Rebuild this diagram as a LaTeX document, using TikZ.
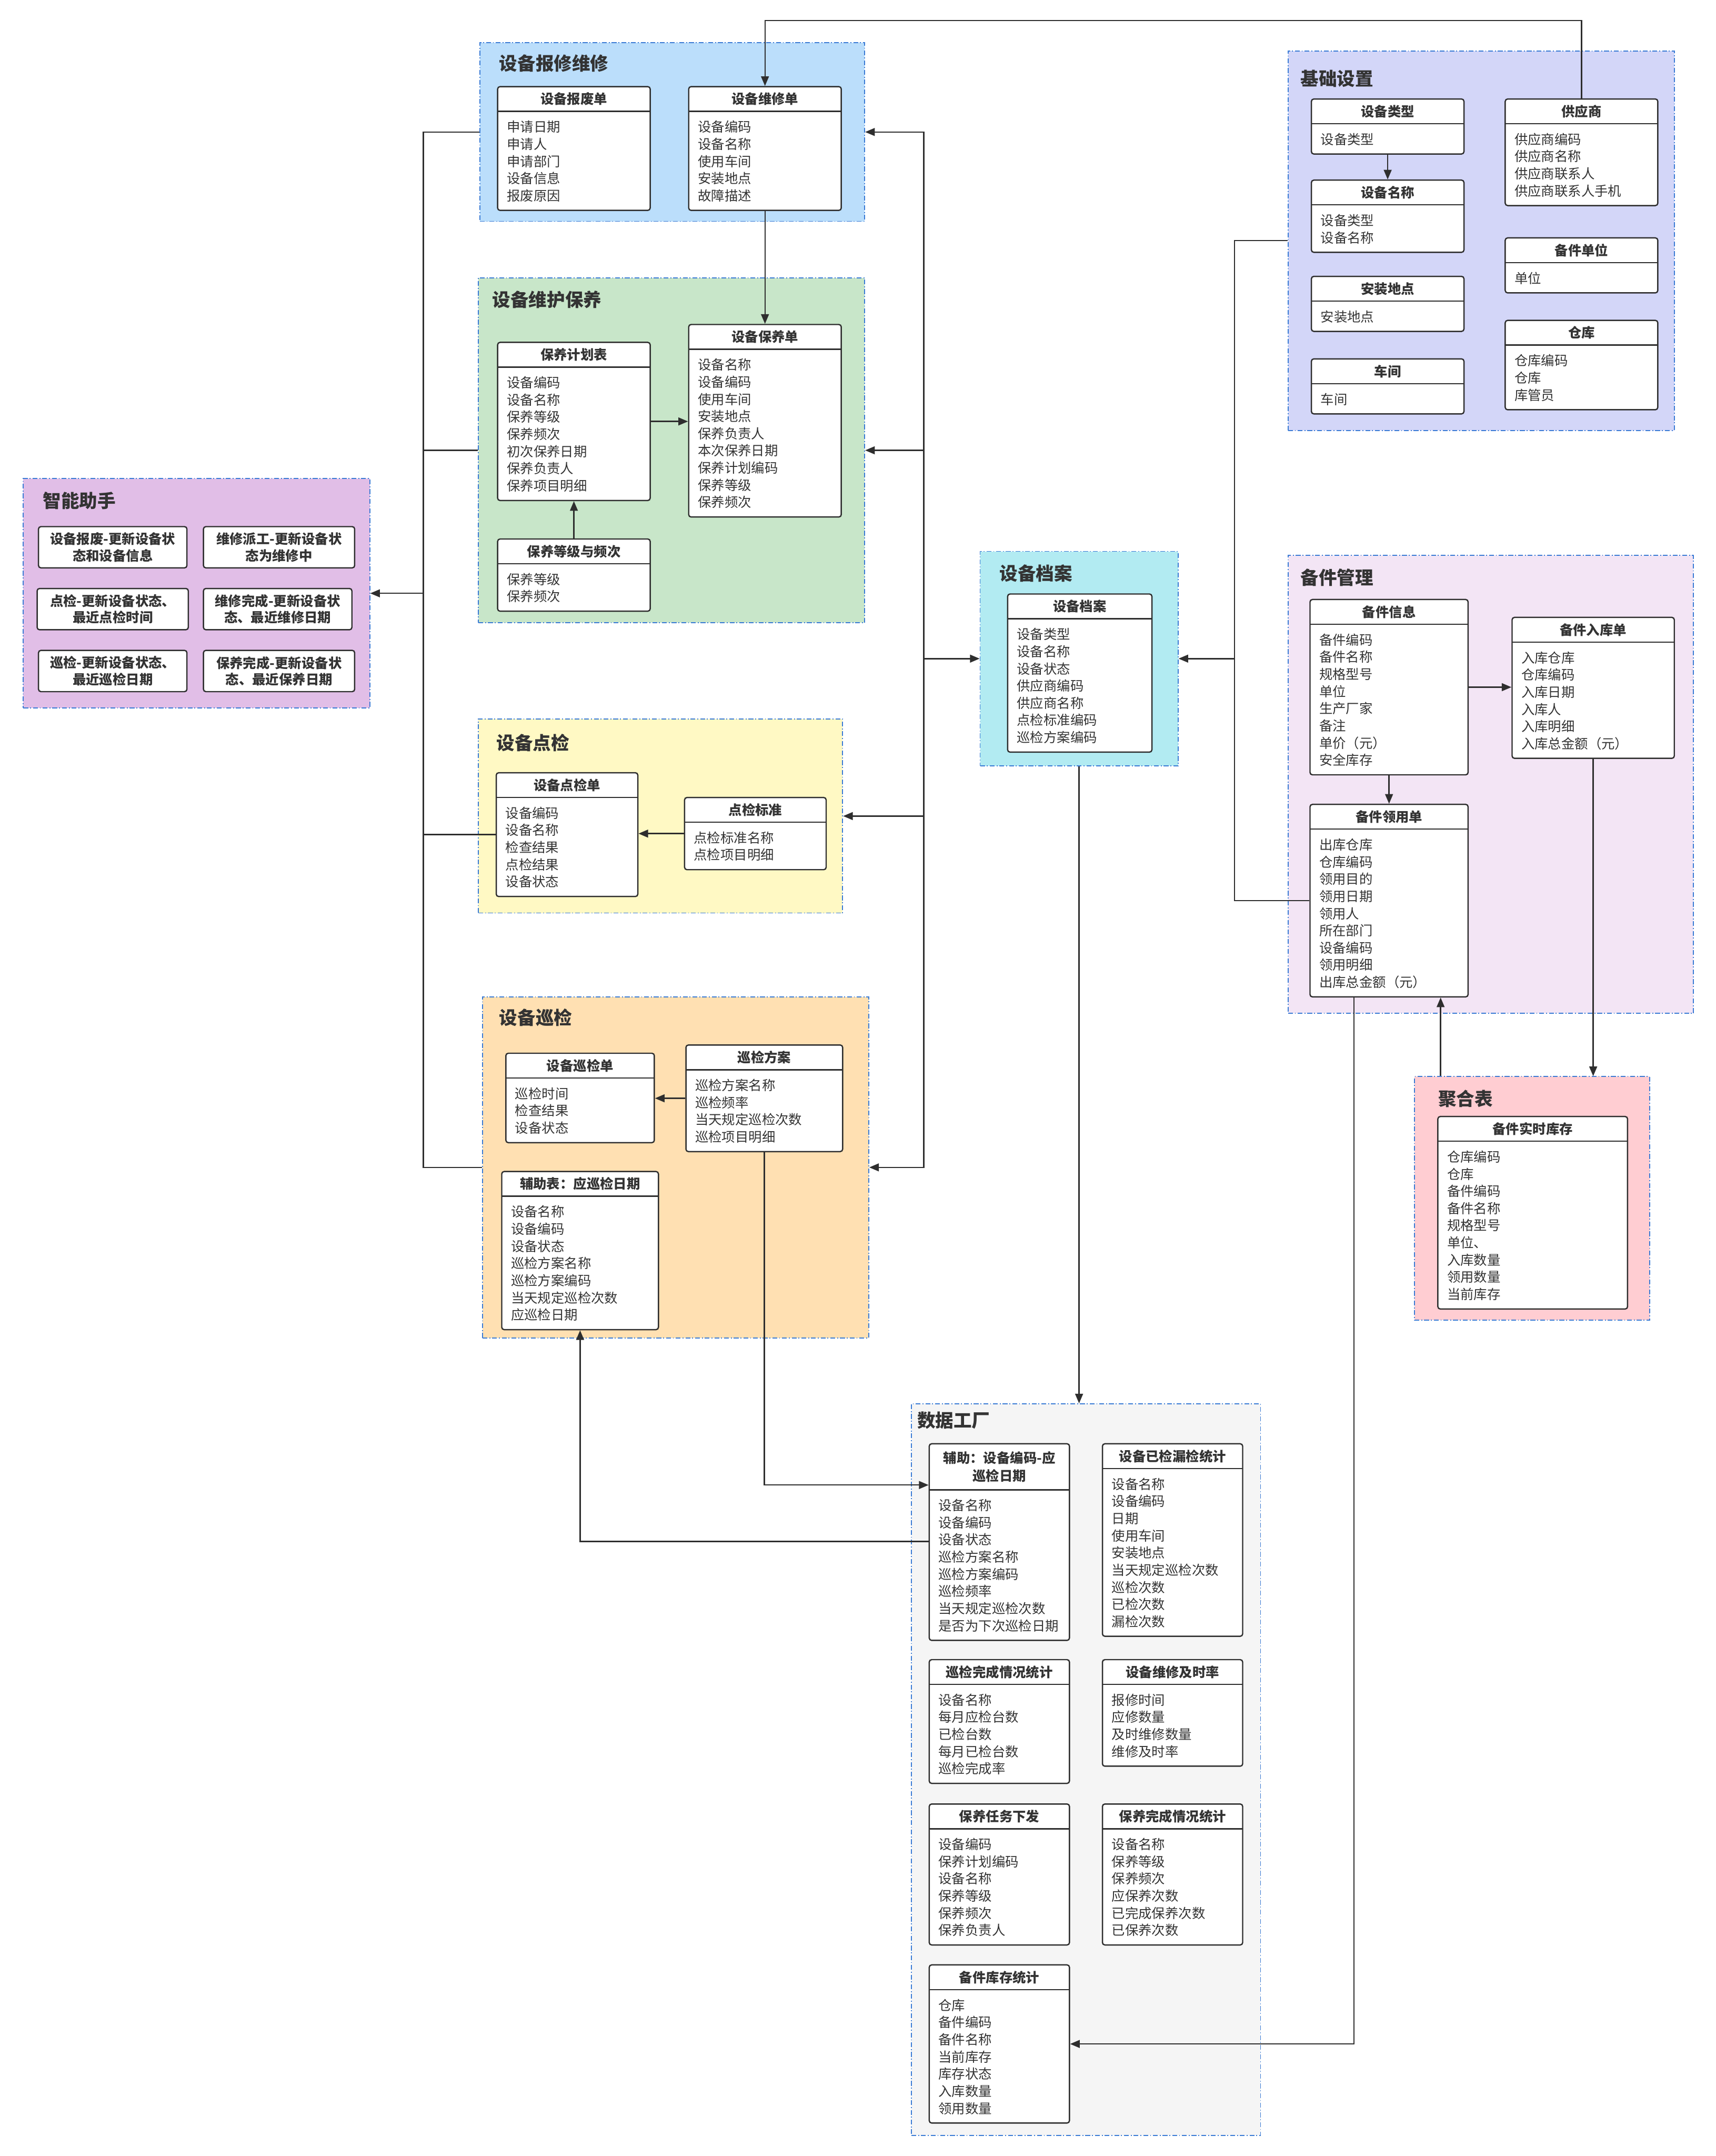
\documentclass[tikz,border=0pt]{standalone}
\usepackage{fontspec}
\setmainfont{Noto Sans CJK SC}
\usetikzlibrary{arrows.meta,fit}

\definecolor{linec}{HTML}{2E2E2E}
\definecolor{txtc}{HTML}{333333}
\definecolor{framec}{HTML}{3A7BD5}
\definecolor{cBX}{HTML}{BBDEFB}
\definecolor{cBY}{HTML}{C8E6C9}
\definecolor{cZN}{HTML}{E1BEE7}
\definecolor{cDA}{HTML}{B2EBF2}
\definecolor{cDJ}{HTML}{FFF9C4}
\definecolor{cXJ}{HTML}{FFE0B2}
\definecolor{cJC}{HTML}{D3D6F8}
\definecolor{cBJ}{HTML}{F3E5F5}
\definecolor{cJH}{HTML}{FFCDD2}
\definecolor{cSJ}{HTML}{F5F5F5}

\tikzset{
 grp/.style={draw=framec, line width=0.6pt, dash pattern=on 3pt off 1.2pt on 0.6pt off 1.2pt, inner sep=0pt},
 grptitle/.style={anchor=west, inner sep=0pt, text=txtc, font=\fontsize{11.3}{13}\selectfont\bfseries},
 entbox/.style={draw=linec, line width=0.8pt, fill=white, rounded corners=1.5pt, inner sep=0pt},
 hdr/.style={inner sep=0pt, text=txtc, font=\fontsize{8.3}{11}\selectfont\bfseries, align=center},
 fld/.style={anchor=base west, inner sep=0pt, text=txtc, font=\fontsize{8.3}{10}\selectfont},
 atext/.style={inner sep=0pt, align=center, font=\fontsize{8.3}{10.2}\selectfont\bfseries, text=txtc},
 conn/.style={draw=linec, line width=0.8pt},
 arr/.style={conn, -{Triangle[length=0.21cm,width=0.17cm]}},
}

% name, x1, y1, x2, n, header height, title, fields
\newcommand{\ent}[8]{%
 \pgfmathsetmacro{\entyb}{#3+#6+9.5+12.5*#5}%
 \node[entbox, fit={(#2,#3) (#4,\entyb)}] (#1) {};%
 \draw[linec, line width=0.8pt] (#2,{#3+#6}) -- (#4,{#3+#6});%
 \node[hdr] at ({(#2+#4)/2},{#3+#6/2}) {#7};%
 \foreach \fldtxt [count=\fldn] in {#8} {\node[fld] at ({#2+6.5},{#3+#6+15+12.5*(\fldn-1)}) {\fldtxt};}%
}
% name, x1, y1, x2, y2, text
\newcommand{\abox}[6]{%
 \node[entbox, fit={(#2,#3) (#4,#5)}] (#1) {};%
 \node[atext] at (#1.center) {#6};%
}

\begin{document}
\begin{tikzpicture}[x=0.03cm, y=-0.03cm]
\fill[white] (0,0) rectangle (1248,1568);
\useasboundingbox (0,0) rectangle (1248,1568);

% ---------- groups ----------
\node[grp, fill=cBX, fit={(349,31) (629,161)}] (g-bx) {};
\node[grp, fill=cBY, fit={(348,202) (629,453)}] (g-by) {};
\node[grp, fill=cZN, fit={(17,348) (269,515)}] (g-zn) {};
\node[grp, fill=cDA, fit={(713,401) (857,557)}] (g-da) {};
\node[grp, fill=cDJ, fit={(348,523) (613,664)}] (g-dj) {};
\node[grp, fill=cXJ, fit={(351,725) (632,973)}] (g-xj) {};
\node[grp, fill=cJC, fit={(937,37) (1218,313)}] (g-jc) {};
\node[grp, fill=cBJ, fit={(937,404) (1232,737)}] (g-bj) {};
\node[grp, fill=cJH, fit={(1029,783) (1200,960)}] (g-jh) {};
\node[grp, fill=cSJ, fit={(663,1021) (917,1553)}] (g-sj) {};

\node[grptitle] (t-bx) at (363,46) {设备报修维修};
\node[grptitle] (t-by) at (358,218) {设备维护保养};
\node[grptitle] (t-zn) at (31,364) {智能助手};
\node[grptitle] (t-da) at (727,417) {设备档案};
\node[grptitle] (t-dj) at (361,540) {设备点检};
\node[grptitle] (t-xj) at (363,740) {设备巡检};
\node[grptitle] (t-jc) at (946,57) {基础设置};
\node[grptitle] (t-bj) at (946,420) {备件管理};
\node[grptitle] (t-jh) at (1046,799) {聚合表};
\node[grptitle] (t-sj) at (667,1033) {数据工厂};

% ---------- entities ----------
\ent{bfd}{362}{63}{473}{5}{18}{设备报废单}{申请日期,申请人,申请部门,设备信息,报废原因}
\ent{wxd}{501}{63}{612}{5}{18}{设备维修单}{设备编码,设备名称,使用车间,安装地点,故障描述}
\ent{byjh}{362}{249}{473}{7}{18}{保养计划表}{设备编码,设备名称,保养等级,保养频次,初次保养日期,保养负责人,保养项目明细}
\ent{byd}{501}{236}{612}{9}{18}{设备保养单}{设备名称,设备编码,使用车间,安装地点,保养负责人,本次保养日期,保养计划编码,保养等级,保养频次}
\ent{bydj}{362}{392}{473}{2}{18}{保养等级与频次}{保养等级,保养频次}
\ent{da}{733}{432}{838}{7}{18}{设备档案}{设备类型,设备名称,设备状态,供应商编码,供应商名称,点检标准编码,巡检方案编码}
\ent{djd}{361}{562}{464}{5}{18}{设备点检单}{设备编码,设备名称,检查结果,点检结果,设备状态}
\ent{djbz}{498}{580}{601}{2}{18}{点检标准}{点检标准名称,点检项目明细}
\ent{xjd}{368}{766}{476}{3}{18}{设备巡检单}{巡检时间,检查结果,设备状态}
\ent{xjfa}{499}{760}{613}{4}{18}{巡检方案}{巡检方案名称,巡检频率,当天规定巡检次数,巡检项目明细}
\ent{fzb}{365}{852}{479}{7}{18}{辅助表：应巡检日期}{设备名称,设备编码,设备状态,巡检方案名称,巡检方案编码,当天规定巡检次数,应巡检日期}
\ent{sblx}{954}{72}{1065}{1}{18}{设备类型}{设备类型}
\ent{sbmc}{954}{131}{1065}{2}{18}{设备名称}{设备类型,设备名称}
\ent{azdd}{954}{201}{1065}{1}{18}{安装地点}{安装地点}
\ent{cj}{954}{261}{1065}{1}{18}{车间}{车间}
\ent{gys}{1095}{72}{1206}{4}{18}{供应商}{供应商编码,供应商名称,供应商联系人,供应商联系人手机}
\ent{bjdw}{1095}{173}{1206}{1}{18}{备件单位}{单位}
\ent{ck}{1095}{233}{1206}{3}{18}{仓库}{仓库编码,仓库,库管员}
\ent{bjxx}{953}{436}{1068}{8}{18}{备件信息}{备件编码,备件名称,规格型号,单位,生产厂家,备注,单价（元）,安全库存}
\ent{bjrk}{1100}{449}{1218}{6}{18}{备件入库单}{入库仓库,仓库编码,入库日期,入库人,入库明细,入库总金额（元）}
\ent{bjly}{953}{585}{1068}{9}{18}{备件领用单}{出库仓库,仓库编码,领用目的,领用日期,领用人,所在部门,设备编码,领用明细,出库总金额（元）}
\ent{sskc}{1046}{812}{1184}{9}{18}{备件实时库存}{仓库编码,仓库,备件编码,备件名称,规格型号,单位、,入库数量,领用数量,当前库存}
\ent{fzsj}{676}{1050}{778}{8}{33.5}{辅助：设备编码-应\\巡检日期}{设备名称,设备编码,设备状态,巡检方案名称,巡检方案编码,巡检频率,当天规定巡检次数,是否为下次巡检日期}
\ent{yjlj}{802}{1050}{904}{9}{18}{设备已检漏检统计}{设备名称,设备编码,日期,使用车间,安装地点,当天规定巡检次数,巡检次数,已检次数,漏检次数}
\ent{xjwc}{676}{1207}{778}{5}{18}{巡检完成情况统计}{设备名称,每月应检台数,已检台数,每月已检台数,巡检完成率}
\ent{wxjs}{802}{1207}{904}{4}{18}{设备维修及时率}{报修时间,应修数量,及时维修数量,维修及时率}
\ent{byrw}{676}{1312}{778}{6}{18}{保养任务下发}{设备编码,保养计划编码,设备名称,保养等级,保养频次,保养负责人}
\ent{bywc}{802}{1312}{904}{6}{18}{保养完成情况统计}{设备名称,保养等级,保养频次,应保养次数,已完成保养次数,已保养次数}
\ent{bjkc}{676}{1429}{778}{7}{18}{备件库存统计}{仓库,备件编码,备件名称,当前库存,库存状态,入库数量,领用数量}

% ---------- 智能助手 boxes ----------
\abox{a1}{28}{383}{136}{413}{设备报废-更新设备状\\态和设备信息}
\abox{a2}{148}{383}{258}{413}{维修派工-更新设备状\\态为维修中}
\abox{a3}{27}{428}{137}{458}{点检-更新设备状态、\\最近点检时间}
\abox{a4}{148}{428}{256}{458}{维修完成-更新设备状\\态、最近维修日期}
\abox{a5}{28}{473}{136}{503}{巡检-更新设备状态、\\最近巡检日期}
\abox{a6}{148}{473}{258}{503}{保养完成-更新设备状\\态、最近保养日期}

% ---------- connectors ----------
\coordinate (lbus) at (308,431.5);
\coordinate (rbus) at (672,479);
\coordinate (mbus) at (898,479);

\draw[arr] (gys.north) |- (wxd.north |- 0,15) -- (wxd.north);
\draw[arr] (wxd.south) -- (byd.north);
\draw[arr] (byjh.east) -- (byjh.east -| byd.west);
\draw[arr] (bydj.north) -- (byjh.south);
\draw[arr] (djbz.west) -- (djbz.west -| djd.east);
\draw[arr] (xjfa.west) -- (xjfa.west -| xjd.east);
\draw[arr] (sblx.south) -- (sbmc.north);
\draw[arr] (bjxx.east) -- (bjxx.east -| bjrk.west);
\draw[arr] (bjxx.south) -- (bjly.north);

% left bus to 智能助手
\draw[conn] (g-bx.west) -| (lbus);
\draw[conn] (g-by.west) -| (lbus);
\draw[conn] (djd.west) -| (lbus);
\draw[conn] (g-xj.west) -| (lbus);
\draw[arr] (lbus) -- (lbus -| g-zn.east);

% right bus
\draw[arr] (rbus) |- (g-bx.east);
\draw[arr] (rbus) |- (g-by.east);
\draw[arr] (rbus) |- (g-dj.east);
\draw[arr] (rbus) |- (g-xj.east);
\draw[arr] (rbus) -- (g-da.west);

% 基础设置 / 备件领用单 -> 设备档案
\draw[conn] (g-jc.west) -| (mbus);
\draw[conn] (bjly.west) -| (mbus);
\draw[arr] (mbus) -- (g-da.east);

% 设备档案 -> 数据工厂
\draw[arr] (g-da.south) -- (g-da.south |- g-sj.north);

% 备件
\draw[arr] (bjly.south -| 985,0) |- (bjkc.east);
\draw[arr] (g-jh.north -| 1048,0) -- (bjly.south -| 1048,0);
\draw[arr] (bjrk.south) -- (bjrk.south |- g-jh.north);

% 巡检
\draw[arr] (xjfa.south) |- (fzsj.west |- 0,1080);
\draw[arr] (fzsj.west |- 0,1121) -| (fzb.south);
\end{tikzpicture}
\end{document}
